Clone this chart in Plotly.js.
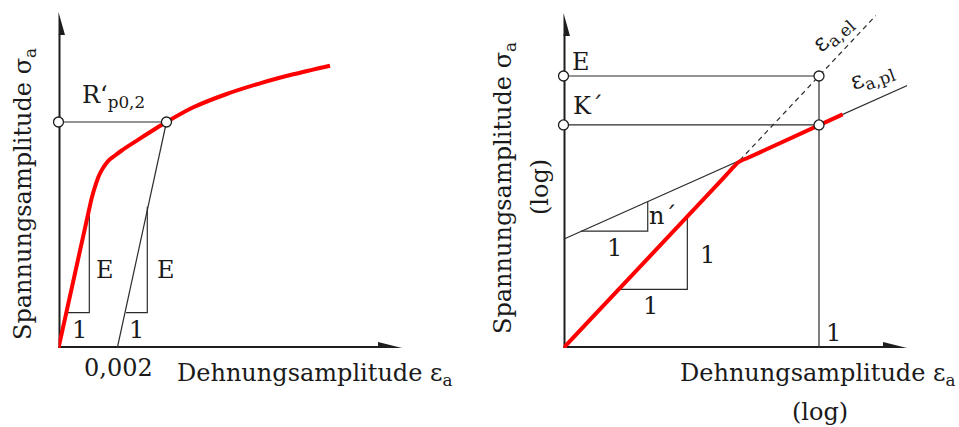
<!DOCTYPE html>
<html>
<head>
<meta charset="utf-8">
<script src="https://cdn.plot.ly/plotly-3.0.1.min.js"></script>
<style>
  html, body { margin: 0; padding: 0; background: #fff; }
  #chart { width: 959px; height: 427px; }
</style>
</head>
<body>
<div id="chart"></div>
<script>
// ---------- Left panel: cyclic stress-strain curve (linear axes) ----------
// strain (absolute) and stress amplitude (MPa) along the cyclic curve
const cycStrain = [0, 0.001037, 0.001139, 0.001276, 0.001378, 0.001514, 0.001694, 0.001922,
                   0.002150, 0.002714, 0.003282, 0.003673, 0.004585, 0.005721, 0.006854, 0.007986, 0.009235];
const cycStress = [0, 220.8, 241.6, 263.0, 276.0, 288.0, 299.5, 308.0,
                   316.0, 333.3, 350.4, 361.6, 385.1, 406.4, 423.5, 437.9, 451.7];
// 0.2 % offset line and the resulting cyclic yield point R'p0,2
const offsetStrain = 0.002;
const rp02Strain = 0.003673;
const rp02Stress = 361.6;
// slope triangles marking the modulus E
const triStressY = [56.5, 56.5, 226];
const tri1Strain = [0.000255, 0.001048, 0.001048];
const tri2Strain = [0.002296, 0.003020, 0.003020];
const strainMax = 0.011684, stressMax = 537.6;

// ---------- Right panel: log-log representation (decades) ----------
const logE = 3.0;       // log E   (elastic line at eps = 1)
const logK = 2.46;      // log K'  (plastic line at eps = 1)
const logEpsMin = -3, logEpsMax = 1.0332, logSigMax = 3.6948;
// total strain curve
const totLogEps = [-3, -1.142, -1.057, -0.998, -0.951, -0.904, -0.833, 0.278];
const totLogSig = [0, 1.853, 1.941, 2.002, 2.046, 2.070, 2.098, 2.577];
// elastic (dashed) and plastic asymptotes
const elLogEps = [-0.93, 0.666];
const elLogSig = [2.07, 3.666];
const plLogEps = [-3, 1.194];
const plLogSig = [1.2, 2.961];
// slope triangles n' and 1:1
const nTriEps = [-2.79, -2.011, -2.011];
const nTriSig = [1.288, 1.288, 1.615];
const eTriEps = [-2.353, -1.546, -1.546];
const eTriSig = [0.647, 0.647, 1.454];

const INK = '#1e1e1e', THIN = '#2b2b2b', RED = '#ff0000';
const FONT = { family: 'DejaVu Serif, serif', size: 24, color: '#1a1a1a' };

function thin(x, y, xa, ya, extra) {
  return Object.assign({ type: 'scatter', mode: 'lines', x: x, y: y, xaxis: xa, yaxis: ya,
    line: { color: THIN, width: 1.2 }, hoverinfo: 'skip', cliponaxis: false }, extra || {});
}
function circles(x, y, xa, ya) {
  return { type: 'scatter', mode: 'markers', x: x, y: y, xaxis: xa, yaxis: ya, cliponaxis: false,
    marker: { size: 10, color: '#ffffff', line: { color: INK, width: 1.3 } }, hoverinfo: 'skip' };
}

const traces = [
  // left panel
  thin([0, rp02Strain], [rp02Stress, rp02Stress], 'x', 'y'),
  thin([offsetStrain, rp02Strain], [0, rp02Stress], 'x', 'y'),
  thin(tri1Strain, triStressY, 'x', 'y'),
  thin(tri2Strain, triStressY, 'x', 'y'),
  { type: 'scatter', mode: 'lines', x: cycStrain, y: cycStress, xaxis: 'x', yaxis: 'y', cliponaxis: false,
    line: { color: RED, width: 4, shape: 'spline', smoothing: 0.8 }, hoverinfo: 'skip' },
  circles([0, rp02Strain], [rp02Stress, rp02Stress], 'x', 'y'),
  // right panel
  thin([logEpsMin, 0], [logE, logE], 'x2', 'y2'),
  thin([logEpsMin, 0], [logK, logK], 'x2', 'y2'),
  thin([0, 0], [0, logE], 'x2', 'y2'),
  thin(plLogEps, plLogSig, 'x2', 'y2'),
  thin(elLogEps, elLogSig, 'x2', 'y2', { line: { color: THIN, width: 1.2, dash: '5px,4px' } }),
  thin(nTriEps, nTriSig, 'x2', 'y2'),
  thin(eTriEps, eTriSig, 'x2', 'y2'),
  { type: 'scatter', mode: 'lines', x: totLogEps, y: totLogSig, xaxis: 'x2', yaxis: 'y2', cliponaxis: false,
    line: { color: RED, width: 4, shape: 'spline', smoothing: 0.4 }, hoverinfo: 'skip' },
  circles([logEpsMin, 0, logEpsMin, 0], [logE, logE, logK, logK], 'x2', 'y2')
];

// axis arrows
function axisLine(xr, yr, x0, y0, x1, y1) {
  return { type: 'line', xref: xr, yref: yr, x0: x0, y0: y0, x1: x1, y1: y1, layer: 'below',
    line: { color: INK, width: 4 } };
}
function head(xr, yr, x, y, path) {
  return { type: 'path', xref: xr, yref: yr, xsizemode: 'pixel', ysizemode: 'pixel',
    xanchor: x, yanchor: y, path: path, fillcolor: INK, line: { width: 0 }, layer: 'below' };
}
const UP = 'M0,0 L-6.5,-23 L6.5,-23 Z';
const RIGHT = 'M0,0 L-24,6 L-24,-6 Z';
const shapes = [
  axisLine('x', 'y', -0.00007, 0, 0.010967, 0),
  axisLine('x', 'y', 0, -3.2, 0, 502),
  head('x', 'y', strainMax, 0, RIGHT),
  head('x', 'y', 0, stressMax, UP),
  axisLine('x2', 'y2', logEpsMin - 0.0235, 0, 0.76, 0),
  axisLine('x2', 'y2', logEpsMin, -0.022, logEpsMin, 3.46),
  head('x2', 'y2', logEpsMax, 0, RIGHT),
  head('x2', 'y2', logEpsMin, logSigMax, UP)
];

function label(text, xr, yr, x, y, extra) {
  return Object.assign({ text: text, xref: xr, yref: yr, x: x, y: y, showarrow: false,
    font: FONT, xanchor: 'center', yanchor: 'middle' }, extra || {});
}
const annotations = [
  // left panel
  label('R‘<sub>p0,2</sub>', 'x', 'y', 0.001871, 403),
  label('E', 'x', 'y', 0.001582, 124.8),
  label('E', 'x', 'y', 0.003656, 124.8),
  label('1', 'x', 'y', 0.000707, 28.8),
  label('1', 'x', 'y', 0.00266, 28.8),
  label('0,002', 'paper', 'paper', 0.12336, 0.13817),
  label('Dehnungsamplitude ε<sub>a</sub>', 'paper', 'paper', 0.32743, 0.12178),
  label('Spannungsamplitude σ<sub>a</sub>', 'paper', 'paper', 0.02607, 0.54567, { textangle: -90 }),
  // right panel
  label('E', 'x2', 'y2', -2.789, 3.149),
  label('K´', 'x2', 'y2', -2.712, 2.669),
  label('n´', 'x2', 'y2', -1.843, 1.456),
  label('1', 'x2', 'y2', -2.407, 1.103),
  label('1', 'x2', 'y2', -1.315, 1.026),
  label('1', 'x2', 'y2', -1.973, 0.463),
  label('1', 'x2', 'y2', 0.176, 0.165),
  label('ε<sub>a,el</sub>', 'x2', 'y2', 0.164, 3.474, { textangle: -42 }),
  label('ε<sub>a,pl</sub>', 'x2', 'y2', 0.622, 3.0, { textangle: -20 }),
  label('Dehnungsamplitude ε<sub>a</sub>', 'paper', 'paper', 0.85297, 0.12412),
  label('(log)', 'paper', 'paper', 0.85506, 0.03513),
  label('Spannungsamplitude σ<sub>a</sub>', 'paper', 'paper', 0.52659, 0.55972, { textangle: -90 }),
  label('(log)', 'paper', 'paper', 0.56309, 0.56206, { textangle: -90 })
];

const hidden = { visible: false, fixedrange: true };
const layout = {
  width: 959, height: 427,
  margin: { l: 0, r: 0, t: 0, b: 0 },
  paper_bgcolor: '#ffffff', plot_bgcolor: 'rgba(0,0,0,0)',
  showlegend: false,
  xaxis: Object.assign({ domain: [58.5 / 959, 402 / 959], range: [0, strainMax] }, hidden),
  yaxis: Object.assign({ domain: [79 / 427, 415 / 427], range: [0, stressMax] }, hidden),
  xaxis2: Object.assign({ domain: [563.5 / 959, 907 / 959], range: [logEpsMin, logEpsMax], anchor: 'y2' }, hidden),
  yaxis2: Object.assign({ domain: [79 / 427, 414 / 427], range: [0, logSigMax], anchor: 'x2' }, hidden),
  shapes: shapes,
  annotations: annotations
};

Plotly.newPlot('chart', traces, layout, { staticPlot: true, displayModeBar: false });
</script>
</body>
</html>
